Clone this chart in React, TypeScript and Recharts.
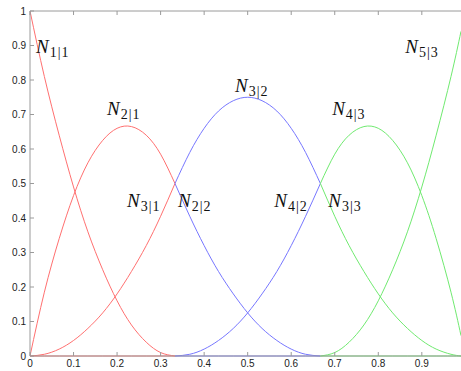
import React from "react";
import {
  LineChart,
  Line,
  XAxis,
  YAxis,
  ReferenceDot,
} from "recharts";

// knot spans [0,1/3], [1/3,2/3], [2/3,1) — one colour per span
const xRed = [0, 0.033, 0.067, 0.1, 0.133, 0.167, 0.2, 0.233, 0.267, 0.3, 0.333];
const xBlue = [0.333, 0.367, 0.4, 0.433, 0.467, 0.5, 0.533, 0.567, 0.6, 0.633, 0.667];
const xGreen = [0.667, 0.7, 0.733, 0.767, 0.8, 0.833, 0.867, 0.9, 0.933, 0.967, 0.99];

// red span
const n11 = [1, 0.81, 0.64, 0.49, 0.36, 0.25, 0.16, 0.09, 0.04, 0.01, 0];
const n21 = [0, 0.185, 0.34, 0.465, 0.56, 0.625, 0.66, 0.665, 0.64, 0.585, 0.5];
const n31 = [0, 0.005, 0.02, 0.045, 0.08, 0.125, 0.18, 0.245, 0.32, 0.405, 0.5];

// blue span
const n22 = [0.5, 0.405, 0.32, 0.245, 0.18, 0.125, 0.08, 0.045, 0.02, 0.005, 0];
const n32 = [0.5, 0.59, 0.66, 0.71, 0.74, 0.75, 0.74, 0.71, 0.66, 0.59, 0.5];
const n42 = [0, 0.005, 0.02, 0.045, 0.08, 0.125, 0.18, 0.245, 0.32, 0.405, 0.5];

// green span
const n33 = [0.5, 0.405, 0.32, 0.245, 0.18, 0.125, 0.08, 0.045, 0.02, 0.005, 0];
const n43 = [0.5, 0.585, 0.64, 0.665, 0.66, 0.625, 0.56, 0.465, 0.34, 0.185, 0.059];
const n53 = [0, 0.01, 0.04, 0.09, 0.16, 0.25, 0.36, 0.49, 0.64, 0.81, 0.941];

// the other functions are zero on each span
const zeros = [0, 0, 0, 0, 0, 0, 0, 0, 0, 0, 0];

const xTicks = [0, 0.1, 0.2, 0.3, 0.4, 0.5, 0.6, 0.7, 0.8, 0.9];
const yTicks = [0, 0.1, 0.2, 0.3, 0.4, 0.5, 0.6, 0.7, 0.8, 0.9, 1];

// text anchors in data coordinates: [i, j, x, y]
const labels: [number, number, number, number][] = [
  [1, 1, 0.014, 0.878],
  [2, 1, 0.177, 0.698],
  [3, 1, 0.223, 0.432],
  [2, 2, 0.34, 0.432],
  [3, 2, 0.471, 0.765],
  [4, 2, 0.561, 0.432],
  [3, 3, 0.685, 0.432],
  [4, 3, 0.694, 0.698],
  [5, 3, 0.862, 0.878],
];

const RED = "#ff7070";
const BLUE = "#7777ff";
const GREEN = "#70ea70";
const AXIS = "#9a9a9a";

const toPoints = (xs: number[], ys: number[]) =>
  xs.map((x, i) => ({ x, y: ys[i] }));

const series = [
  { id: "z1", xs: xRed, ys: zeros, color: RED },
  { id: "n11", xs: xRed, ys: n11, color: RED },
  { id: "n21", xs: xRed, ys: n21, color: RED },
  { id: "n31", xs: xRed, ys: n31, color: RED },
  { id: "z2", xs: xBlue, ys: zeros, color: BLUE },
  { id: "n22", xs: xBlue, ys: n22, color: BLUE },
  { id: "n32", xs: xBlue, ys: n32, color: BLUE },
  { id: "n42", xs: xBlue, ys: n42, color: BLUE },
  { id: "z3", xs: xGreen, ys: zeros, color: GREEN },
  { id: "n33", xs: xGreen, ys: n33, color: GREEN },
  { id: "n43", xs: xGreen, ys: n43, color: GREEN },
  { id: "n53", xs: xGreen, ys: n53, color: GREEN },
];

const BasisLabel = ({ cx, cy, i, j }: any) => (
  <text x={cx} y={cy} fontFamily="'Liberation Serif', serif" fill="#111">
    <tspan fontStyle="italic" fontSize={19}>
      N
    </tspan>
    <tspan fontSize={14} dy={4} dx={1} letterSpacing={1}>
      {`${i}|${j}`}
    </tspan>
  </text>
);

const tickStyle = { fontSize: 10, fill: "#222", fontFamily: "'Liberation Sans', Arial, sans-serif" };

export default function App() {
  return (
    <div style={{ position: "absolute", left: 0, top: 0, background: "#fff" }}>
      <LineChart
        width={461}
        height={371}
        margin={{ top: 0, right: 0, left: 0, bottom: 0 }}
      >
        <XAxis
          xAxisId="top"
          orientation="top"
          dataKey="x"
          type="number"
          domain={[0, 0.99]}
          allowDataOverflow
          ticks={xTicks}
          height={11}
          tickSize={-4}
          stroke={AXIS}
          tickFormatter={() => ""}
        />
        <XAxis
          dataKey="x"
          type="number"
          domain={[0, 0.99]}
          allowDataOverflow
          ticks={xTicks}
          height={15}
          tickSize={-4}
          tickMargin={8}
          stroke={AXIS}
          tick={tickStyle}
        />
        <YAxis
          type="number"
          domain={[0, 1]}
          ticks={yTicks}
          width={30}
          tickSize={-4}
          tickMargin={8}
          stroke={AXIS}
          tick={tickStyle}
        />
        {series.map((s) => (
          <Line
            key={s.id}
            data={toPoints(s.xs, s.ys)}
            dataKey="y"
            type="natural"
            stroke={s.color}
            strokeWidth={1}
            dot={false}
            activeDot={false}
            isAnimationActive={false}
          />
        ))}
        {labels.map(([i, j, x, y]) => (
          <ReferenceDot
            key={`${i}${j}`}
            x={x}
            y={y}
            r={0}
            shape={(p: any) => <BasisLabel cx={p.cx} cy={p.cy} i={i} j={j} />}
          />
        ))}
      </LineChart>
    </div>
  );
}
